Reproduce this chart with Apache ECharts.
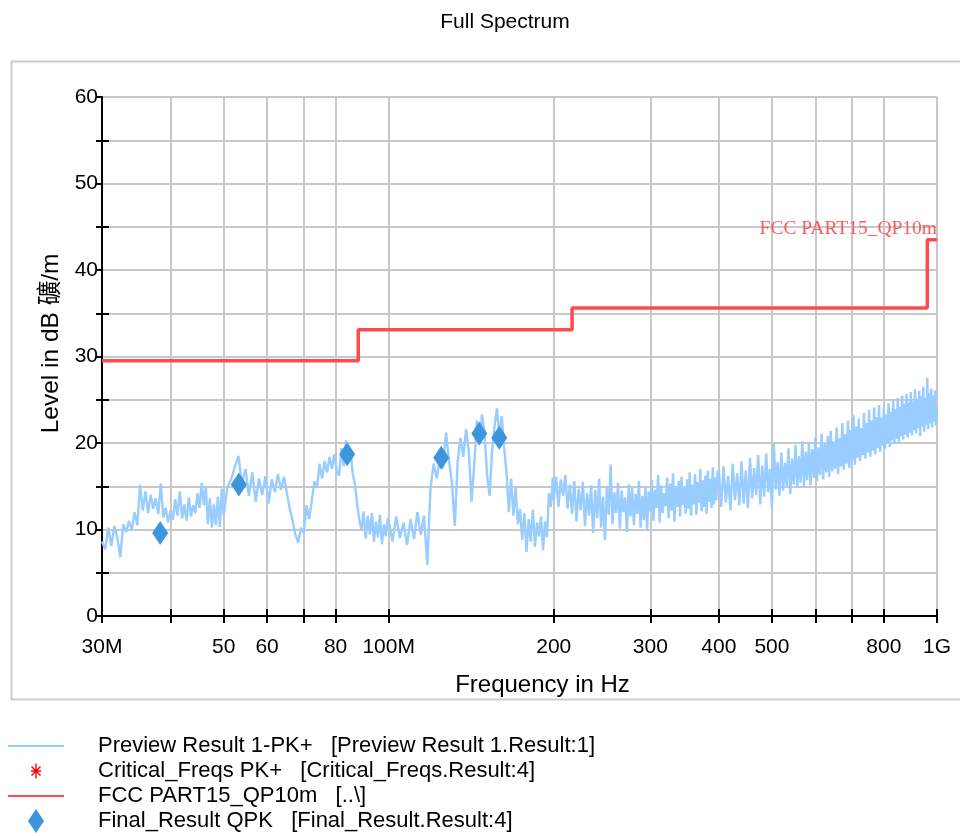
<!DOCTYPE html>
<html>
<head>
<meta charset="UTF-8">
<title>Full Spectrum</title>
<script src="https://cdn.jsdelivr.net/npm/echarts@6/dist/echarts.min.js"></script>
<style>
  html, body { margin: 0; padding: 0; background: #fff; }
  #main { width: 960px; height: 836px; }
</style>
</head>
<body>
<div id="main"></div>
<script>
// sweep blocks of the preview scan (MHz): start frequency and step of each block
var sweepStart = [30, 50, 100, 200, 400];
var sweepStep = [0.4, 0.8, 1.6, 2, 4];

// Preview Result 1-PK+ levels (dBuV/m), one list per block
var levelA = [8.6, 7.7, 10.2, 8.1, 10.4, 9.0, 6.8, 10.6, 9.7, 11.0,
              9.9, 12.0, 10.5, 15.2, 12.2, 14.4, 11.9, 14.0, 12.4, 13.6,
              11.8, 15.3, 11.4, 12.5, 10.8, 12.2, 11.1, 13.5, 11.6, 14.4,
              11.3, 12.9, 11.0, 13.7, 11.5, 12.8, 11.9, 14.2, 12.5, 15.4,
              12.8, 14.9, 10.6, 13.6, 10.2, 12.9, 10.5, 13.8, 10.3, 14.7];
var levelB = [11.6, 14.9, 15.8, 17.2, 18.5, 15.3, 17.0, 13.9, 16.6, 13.2,
              15.9, 14.0, 16.2, 13.0, 15.8, 14.3, 16.4, 14.6, 16.1, 14.2,
              12.4, 11.0, 9.4, 8.5, 10.2, 9.6, 12.8, 11.2, 13.3, 15.6,
              14.8, 17.6, 15.9, 17.9, 16.6, 18.4, 17.0, 18.7, 16.8, 16.2,
              19.4, 17.3, 20.3, 17.8, 19.0, 16.4, 15.2, 12.9, 11.1, 10.0,
              12.1, 8.9, 11.6, 9.4, 11.9, 8.6, 10.9, 9.1, 11.7, 8.3,
              10.6, 9.2, 11.3];
var levelC = [11.0, 8.6, 11.5, 9.0, 10.8, 8.2, 11.2, 8.9, 12.0, 9.4,
              11.6, 5.9, 14.8, 17.6, 15.9, 18.3, 17.1, 21.2, 18.0, 15.4,
              10.4, 17.9, 20.6, 18.4, 21.6, 19.0, 13.2, 17.4, 22.6, 20.5,
              23.3, 21.0, 16.2, 13.9, 19.2, 22.0, 24.0, 20.8, 23.1, 19.4,
              16.6, 12.0, 15.9, 11.6, 14.8, 10.6, 12.4, 8.8, 11.9, 7.4,
              11.2, 8.6, 12.3, 8.0, 10.8, 9.2, 11.5, 7.6, 10.9, 9.1,
              14.2, 12.6, 16.0];
var levelD = [13.4, 16.1, 12.6, 15.8, 13.9, 16.3, 12.4, 15.2, 11.8, 15.6,
              10.9, 14.7, 12.2, 15.5, 10.4, 14.2, 11.6, 15.1, 9.6, 14.6,
              11.3, 15.9, 10.2, 13.8, 8.8, 14.9, 11.7, 17.5, 10.6, 14.3,
              11.9, 15.4, 10.1, 14.5, 12.0, 13.7, 9.7, 15.2, 11.5, 14.8,
              10.5, 14.1, 11.8, 15.6, 10.2, 13.9, 11.1, 15.0, 9.9, 14.4,
              12.1, 15.7, 11.0, 14.6, 12.5, 16.3, 10.8, 15.1, 11.9, 14.2,
              12.7, 16.0, 11.3, 15.3, 12.2, 16.5, 10.9, 14.8, 12.6, 15.6,
              11.5, 16.1, 12.8, 14.9, 11.8, 15.8, 12.4, 16.6, 11.6, 15.2,
              12.9, 16.4, 11.7, 15.5, 13.1, 17.0, 12.1, 15.7, 12.6, 16.2,
              11.8, 16.8, 13.2, 15.9, 12.5, 17.2, 12.9, 16.0, 13.4, 16.6];
var levelE = [16.9, 12.6, 17.3, 13.1, 16.2, 12.2, 17.6, 13.4, 16.5, 12.8,
              17.9, 13.0, 16.8, 12.5, 18.3, 13.6, 17.1, 14.0, 18.6, 12.9,
              17.4, 13.8, 18.8, 14.3, 17.0, 12.4, 19.9, 14.6, 17.8, 13.9,
              18.9, 14.5, 17.7, 15.0, 19.4, 14.1, 18.2, 15.2, 19.8, 14.8,
              18.5, 15.4, 20.2, 14.9, 19.0, 15.7, 20.0, 15.1, 19.3, 16.0,
              20.6, 15.6, 19.5, 16.3, 21.1, 15.8, 19.9, 16.6, 20.8, 16.1,
              21.4, 16.7, 20.2, 17.0, 21.8, 16.4, 20.6, 17.3, 22.3, 16.9,
              21.0, 17.6, 22.6, 17.1, 21.5, 18.0, 23.2, 17.5, 21.9, 18.3,
              22.8, 17.9, 21.7, 18.6, 23.5, 18.2, 22.3, 18.9, 23.8, 18.4,
              22.6, 19.1, 24.1, 18.7, 23.0, 19.4, 24.4, 19.0, 22.9, 19.7,
              24.0, 19.3, 23.3, 20.0, 24.6, 19.5, 23.6, 20.3, 25.0, 19.9,
              23.9, 20.5, 25.2, 20.1, 24.2, 20.8, 25.5, 20.4, 24.5, 21.0,
              25.7, 20.6, 24.7, 21.2, 25.9, 20.9, 24.8, 21.5, 26.2, 21.1,
              25.1, 21.7, 26.0, 20.8, 25.4, 21.9, 26.5, 21.3, 25.2, 22.1,
              27.5, 21.6, 25.8, 22.3, 26.3, 21.8, 25.5, 22.5, 26.1, 22.0,
              24.3];

// FCC PART15 QP 10m limit (step at each frequency)
var limitFreq = [30, 88, 216, 960, 1000];
var limitLevel = [29.5, 33.1, 35.6, 43.5, 43.5];

// Final_Result QPK
var finalFreq = [38.3, 53.3, 84.0, 124.7, 146.3, 159.1];
var finalLevel = [9.6, 15.2, 18.7, 18.3, 21.1, 20.6];

// axis ticks
var xTickValues = [30, 40, 50, 60, 70, 80, 100, 200, 300, 400, 500, 600, 700, 800, 1000];
var xLabelValues = [30, 50, 60, 80, 100, 200, 300, 400, 500, 800, 1000];
var yMinorTicks = [5, 15, 25, 35, 45, 55];

var seriesNames = [
  'Preview Result 1-PK+   [Preview Result 1.Result:1]',
  'Critical_Freqs PK+   [Critical_Freqs.Result:4]',
  'FCC PART15_QP10m   [..\\]',
  'Final_Result QPK   [Final_Result.Result:4]'
];

var font = '"Liberation Sans", Arial, "Noto Sans CJK SC", sans-serif';
var diamondPath = 'path://M8,0L16,12L8,24L0,12Z';
var asteriskPath = 'path://M-12,-12M12,12' +
  'M-0.7,-7.5L0.7,-7.5L0.7,7.5L-0.7,7.5Z' +
  'M-5,-0.7L5,-0.7L5,0.7L-5,0.7Z' +
  'M-4,-5L5,4L4,5L-5,-4Z' +
  'M-5,4L4,-5L5,-4L-4,5Z';

// build preview points from the sweep blocks
var levelBlocks = [levelA, levelB, levelC, levelD, levelE];
var previewData = [];
for (var b = 0; b < levelBlocks.length; b++) {
  for (var i = 0; i < levelBlocks[b].length; i++) {
    previewData.push([sweepStart[b] + i * sweepStep[b], levelBlocks[b][i]]);
  }
}
var limitData = limitFreq.map(function (f, i) { return [f, limitLevel[i]]; });
var finalData = finalFreq.map(function (f, i) { return [f, finalLevel[i]]; });

function xLabel(v) {
  var r = Math.round(v);
  if (r === 30) return '30M';
  if (r === 100) return '100M';
  if (r === 1000) return '1G';
  return String(r);
}

var myChart = echarts.init(document.getElementById('main'));

var option = {
  animation: false,
  backgroundColor: '#fff',
  textStyle: { fontFamily: font },
  title: {
    text: 'Full Spectrum',
    left: 500,
    top: 7,
    textAlign: 'center',
    textStyle: { fontFamily: font, fontSize: 21, fontWeight: 'normal', color: '#000' }
  },
  graphic: [{
    type: 'rect',
    left: 9, top: 59,
    shape: { width: 960, height: 638 },
    style: { fill: 'none', stroke: '#cccccc', lineWidth: 2 },
    silent: true
  }],
  legend: {
    orient: 'vertical',
    left: 7,
    top: 735,
    padding: 0,
    itemWidth: 56,
    itemHeight: 24,
    itemGap: 2,
    selectedMode: false,
    textStyle: { fontFamily: font, fontSize: 22, color: '#000', padding: [0, 0, 0, 29] },
    data: [
      { name: seriesNames[0], itemStyle: { opacity: 0 } },
      { name: seriesNames[1] },
      { name: seriesNames[2], itemStyle: { opacity: 0 } },
      { name: seriesNames[3] }
    ]
  },
  grid: { left: 102, right: 23, top: 97, bottom: 220 },
  xAxis: [{
    type: 'log',
    logBase: 10,
    min: 30,
    max: 1000,
    name: 'Frequency in Hz',
    nameLocation: 'middle',
    nameGap: 57,
    nameTextStyle: { fontFamily: font, fontSize: 24, color: '#000', padding: [0, 0, 0, 46] },
    axisLine: { show: true, lineStyle: { color: '#000', width: 2 } },
    axisTick: { show: true, length: 7, customValues: xTickValues, lineStyle: { color: '#000', width: 2 } },
    axisLabel: { customValues: xLabelValues, formatter: xLabel, fontSize: 21, color: '#000', margin: 21, fontFamily: font },
    splitLine: { show: true, lineStyle: { color: '#c8c8c8', width: 2 } }
  }, {
    type: 'log',
    logBase: 10,
    min: 30,
    max: 1000,
    position: 'bottom',
    axisLine: { show: false },
    axisTick: { show: true, inside: true, length: 7, customValues: xTickValues, lineStyle: { color: '#000', width: 2 } },
    axisLabel: { show: false },
    splitLine: { show: false }
  }],
  yAxis: [{
    type: 'value',
    min: 0,
    max: 60,
    interval: 5,
    name: 'Level in dB 礦/m',
    nameLocation: 'middle',
    nameGap: 30,
    nameTextStyle: { fontFamily: font, fontSize: 24.5, color: '#000', padding: [0, 0, 0, 26] },
    axisLine: { show: true, lineStyle: { color: '#000', width: 2 } },
    axisTick: { show: true, length: 6, lineStyle: { color: '#000', width: 2 } },
    axisLabel: {
      fontSize: 21, color: '#000', margin: 4, fontFamily: font,
      formatter: function (v) { return v % 10 === 0 ? String(v) : ''; }
    },
    splitLine: { show: true, lineStyle: { color: '#c8c8c8', width: 2 } }
  }, {
    type: 'value',
    min: 0,
    max: 60,
    position: 'left',
    axisLine: { show: false },
    axisTick: { show: true, inside: true, length: 7, customValues: yMinorTicks, lineStyle: { color: '#000', width: 2 } },
    axisLabel: { show: false },
    splitLine: { show: false }
  }],
  series: [{
    name: seriesNames[0],
    type: 'line',
    data: previewData,
    symbol: 'none',
    color: '#99ccff',
    lineStyle: { color: '#99ccff', width: 2.4 },
    z: 2
  }, {
    name: seriesNames[1],
    type: 'scatter',
    data: [],
    symbol: asteriskPath,
    symbolSize: 24,
    color: '#ff0000',
    itemStyle: { color: '#ff0000', opacity: 1 }
  }, {
    name: seriesNames[2],
    type: 'line',
    data: limitData,
    step: 'end',
    symbol: 'none',
    color: '#ff4b4b',
    lineStyle: { color: '#ff4b4b', width: 3.5 },
    z: 3,
    markPoint: {
      symbol: 'circle',
      symbolSize: 0,
      silent: true,
      label: {
        show: true,
        position: 'left',
        distance: 0,
        offset: [0, -11],
        formatter: 'FCC PART15_QP10m',
        color: '#ff5a5a',
        fontFamily: '"Liberation Serif", "DejaVu Serif", serif',
        fontSize: 19.5
      },
      data: [{ coord: [limitFreq[4], limitLevel[4]] }]
    }
  }, {
    name: seriesNames[3],
    type: 'scatter',
    data: finalData,
    symbol: diamondPath,
    symbolSize: [16, 24],
    color: '#3d96dc',
    itemStyle: { color: '#3d96dc', opacity: 1 },
    z: 5
  }]
};

myChart.setOption(option);
</script>
</body>
</html>
